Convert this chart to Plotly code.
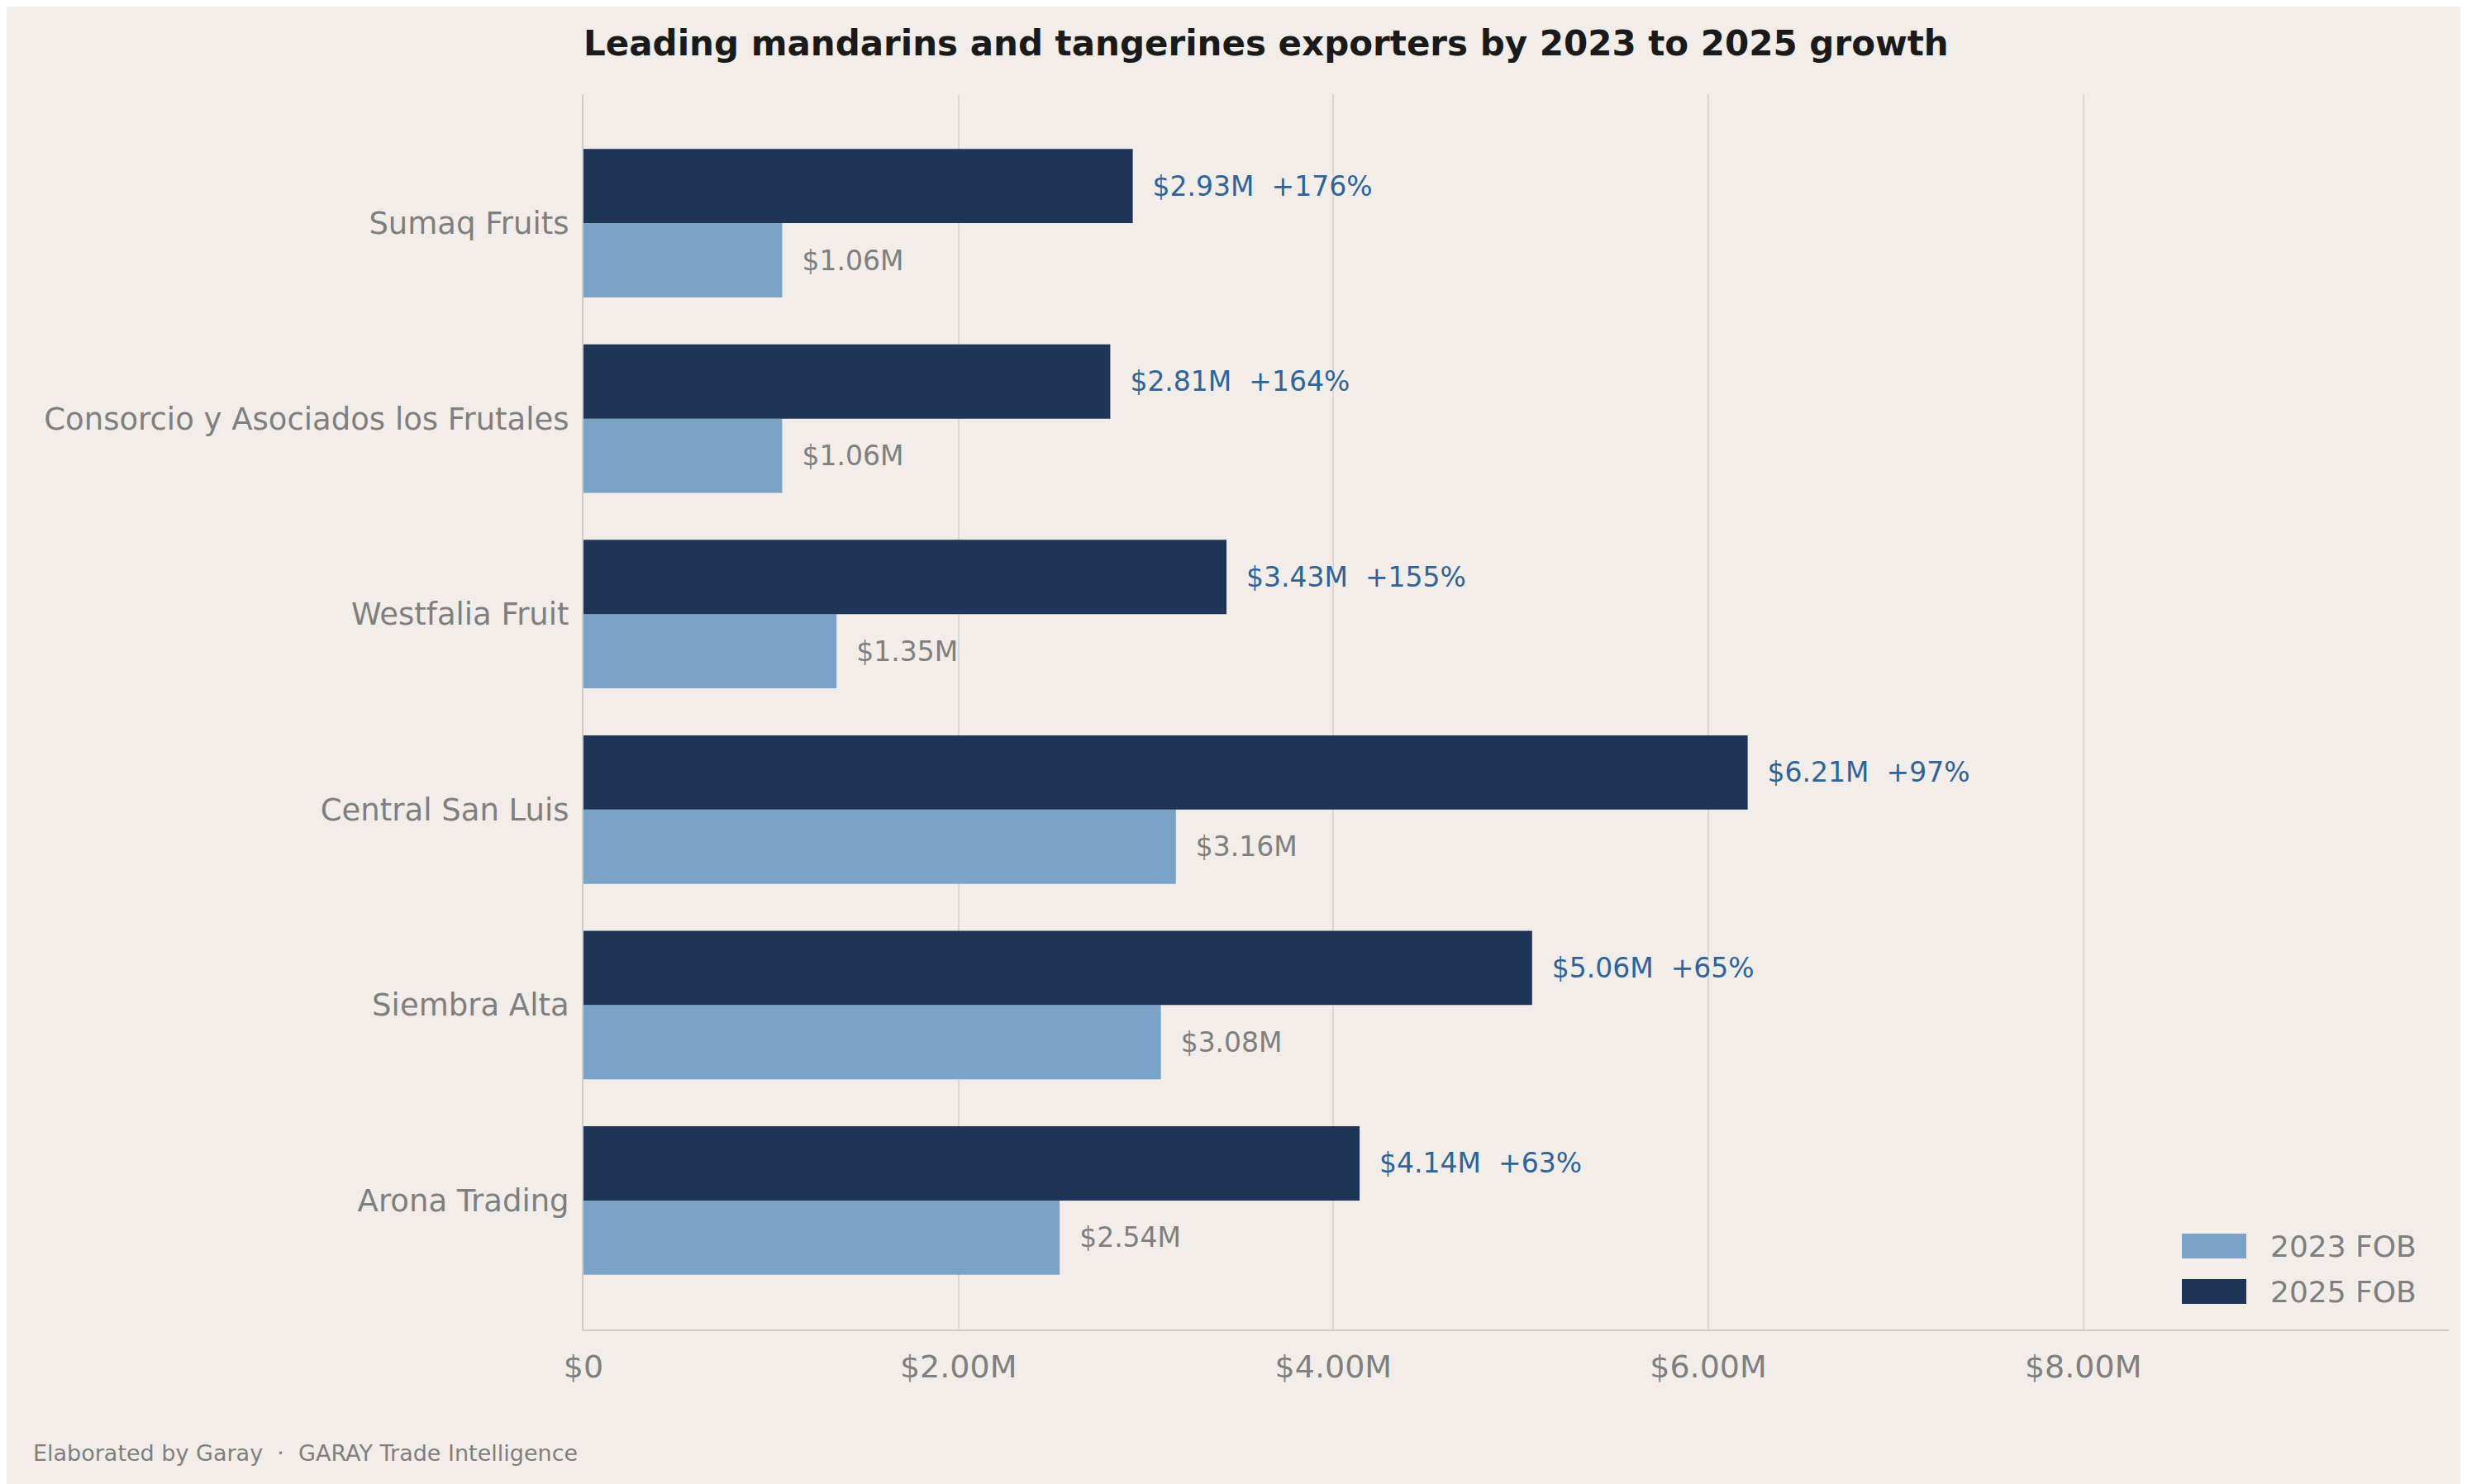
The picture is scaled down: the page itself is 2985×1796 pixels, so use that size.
import plotly.graph_objects as go

# data, top to bottom as shown
companies = ["Sumaq Fruits", "Consorcio y Asociados los Frutales", "Westfalia Fruit",
             "Central San Luis", "Siembra Alta", "Arona Trading"]
fob_2023 = [1.06e6, 1.06e6, 1.35e6, 3.16e6, 3.08e6, 2.54e6]
fob_2025 = [2.93e6, 2.81e6, 3.43e6, 6.21e6, 5.06e6, 4.14e6]
growth_pct = [176, 164, 155, 97, 65, 63]
tick_vals = [0, 2e6, 4e6, 6e6, 8e6]
tick_text = ["$0", "$2.00M", "$4.00M", "$6.00M", "$8.00M"]

BG = "#f2ede9"
FONT = "DejaVu Sans"
C23 = '#7ba3c8'
C25 = '#1e3557'
W, H = 2985, 1796
L, R, T, B = 698, 30, 106, 195

# plotly draws categories bottom-up, so flip
cats = companies[::-1]
v23 = fob_2023[::-1]
v25 = fob_2025[::-1]
pct = growth_pct[::-1]

fig = go.Figure()
fig.add_trace(go.Bar(
    y=cats, x=v23, orientation='h', name='2023 FOB', showlegend=False,
    marker=dict(color=C23, line=dict(width=0)),
    text=[f'  ${v/1e6:.2f}M' for v in v23],
    textposition='outside', cliponaxis=False,
    textfont=dict(family=FONT, size=33, color='#7f7f7f'),
))
fig.add_trace(go.Bar(
    y=cats, x=v25, orientation='h', name='2025 FOB', showlegend=False,
    marker=dict(color=C25, line=dict(width=0)),
    text=[f'  ${v/1e6:.2f}M  +{p}%' for v, p in zip(v25, pct)],
    textposition='outside', cliponaxis=False,
    textfont=dict(family=FONT, size=33, color='#2e6499'),
))

plot_w = W - L - R
plot_h = H - T - B

def px_x(x):
    return (x - L) / plot_w

def px_y(y):
    return (H - B - y) / plot_h

shapes = []
annotations = []
# legend drawn as rectangles + labels (pixel positions of the reference)
for label, color, y0 in [('2023 FOB', C23, 1485), ('2025 FOB', C25, 1540)]:
    shapes.append(dict(type='rect', xref='paper', yref='paper',
                       x0=px_x(2632), x1=px_x(2710), y0=px_y(y0 + 30), y1=px_y(y0),
                       fillcolor=color, line=dict(width=0)))
    annotations.append(dict(text=label, xref='paper', yref='paper',
                            x=px_x(2737), y=px_y(y0 + 15), showarrow=False,
                            xanchor='left', yanchor='middle',
                            font=dict(size=36, color='#7f7f7f')))
annotations.append(dict(text='Elaborated by Garay  ·  GARAY Trade Intelligence',
                        xref='paper', yref='paper', x=px_x(30), y=px_y(1750),
                        showarrow=False, xanchor='left', yanchor='middle',
                        font=dict(size=27, color='#7f7f7f')))

fig.update_layout(
    barmode='group', bargap=0.24, bargroupgap=0,
    width=W, height=H,
    paper_bgcolor=BG, plot_bgcolor=BG,
    margin=dict(l=L, r=R, t=T, b=B),
    font=dict(family=FONT, color='#7f7f7f'),
    title=dict(text='<b>Leading mandarins and tangerines exporters by 2023 to 2025 growth</b>',
               x=L/W, xanchor='left', y=1-44/H, yanchor='middle',
               font=dict(family=FONT, size=42, color='#1a1a1a')),
    xaxis=dict(range=[0, 9.95e6], tickvals=tick_vals, ticktext=tick_text,
               showgrid=True, gridcolor='#dcd8d4', gridwidth=2,
               zeroline=False, showline=True, linecolor='#cfcbc7', linewidth=2,
               tickfont=dict(size=38, color='#7f7f7f'), ticks='', ticklabelstandoff=10),
    yaxis=dict(range=[-0.66, 5.66], showgrid=False, zeroline=False, showline=True,
               linecolor='#cfcbc7', linewidth=2,
               tickfont=dict(size=37, color='#7f7f7f'), ticks='', ticklabelstandoff=8),
    shapes=shapes,
    annotations=annotations,
)

fig.write_html("out.html")
